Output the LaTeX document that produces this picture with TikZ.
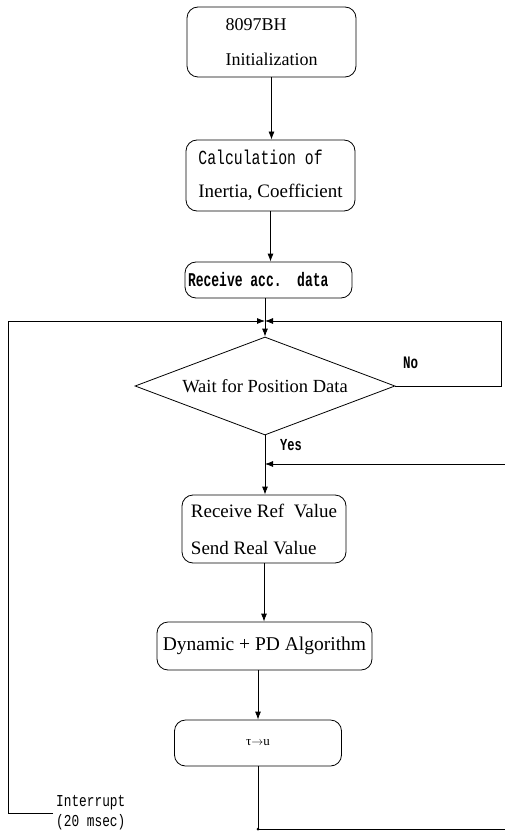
\documentclass[tikz,border=0pt]{standalone}
\usepackage{fontspec}
\usepackage{graphicx}
\setmainfont{Liberation Serif}
\setmonofont{Liberation Mono}
\usetikzlibrary{shapes.geometric,arrows.meta}
% tall, narrow typewriter text: #1 vertical stretch, #2 size, #3 text
\newcommand\monotext[3]{\scalebox{1}[#1]{\fontsize{#2}{#2}\selectfont\ttfamily #3}}
% one fixed typewriter space
\newcommand\tsp{\hspace*{0.6em}}
\begin{document}
\begin{tikzpicture}[x=1pt,y=-1pt,
  box/.style={draw, line width=0.8pt, rounded corners=11pt, inner sep=2pt},
  flow/.style={draw, line width=0.8pt, -{Latex[length=8pt,width=6pt]}},
  wire/.style={draw, line width=0.8pt}]
\path[fill=white] (0,0) rectangle (505,834);
\useasboundingbox (0,0) rectangle (505,834);

% process boxes
\node[box, minimum width=169pt, minimum height=70pt, align=left,
      font=\fontsize{18}{35}\selectfont] (init) at (271.5,42) {8097BH\\Initialization};
\node[box, minimum width=169pt, minimum height=71pt, align=left,
      font=\fontsize{19}{33}\selectfont] (calc) at (270.5,175.5)
      {\monotext{1.35}{14.8}{Calculation\tsp of}\\Inertia, Coefficient};
\node[box, minimum width=167pt, minimum height=36pt, text width=161pt, align=left]
      (acc) at (268.5,280) {\monotext{1.5}{13}{\bfseries Receive\tsp acc.\tsp\tsp data}};

% decision
\node[draw, diamond, shape aspect=2.65, minimum width=260pt, minimum height=98pt,
      inner sep=0pt, line width=0.8pt, font=\fontsize{18.5}{22}\selectfont]
      (wait) at (265,386) {Wait for Position Data};

\node[box, minimum width=164pt, minimum height=68pt, align=left,
      font=\fontsize{19}{37}\selectfont] (ref) at (264,529) {Receive Ref\ \ Value\\Send Real Value};
\node[box, minimum width=215pt, minimum height=48pt,
      font=\fontsize{19.5}{22}\selectfont] (dyn) at (264.5,646) {Dynamic + PD Algorithm};
\node[box, minimum width=167pt, minimum height=46pt,
      font=\fontsize{13}{15}\selectfont] (conv) at (258,743) {τ$\rightarrow$u};

% branch labels
\node[anchor=west, inner sep=0pt] (no) at (403,363) {\monotext{1.4}{12.5}{\bfseries No}};
\node[anchor=west, inner sep=0pt] (yes) at (280,445) {\monotext{1.4}{12}{\bfseries Yes}};
\node[anchor=west, inner xsep=3pt, inner ysep=0pt, align=left,
      font=\fontsize{12.8}{20}\selectfont] (intr) at (53,813)
      {\monotext{1.3}{12.8}{Interrupt}\\\monotext{1.3}{12.8}{(20\tsp msec)}};

% junction points of the loops
\coordinate (join) at (265,321);
\coordinate (noR) at (501,321);
\coordinate (loopL) at (8,321);
\coordinate (back) at (265,464);
\coordinate (corner) at (258,829);
\coordinate (farR) at (508,829);

% main flow
\draw[flow] (init.south) -- (init.south |- calc.north);
\draw[flow] (calc.south) -- (calc.south |- acc.north);
\draw[flow] (acc.south -| wait.north) -- (wait.north);
\draw[flow] (wait.south) -- (wait.south |- ref.north);
\draw[flow] (ref.south) -- (ref.south |- dyn.north);
\draw[flow] (dyn.south -| conv.north) -- (conv.north);

% "No" loop back to the wait
\draw[flow] (wait.east) -| (noR) -- (join);
% interrupt loop
\draw[flow] (intr.west) -| (loopL) -- (join);
% return from the output stage
\draw[flow] (conv.south) -- (corner) -- (farR) |- (back);
\fill (corner) circle (1.5pt);
\end{tikzpicture}
\end{document}
